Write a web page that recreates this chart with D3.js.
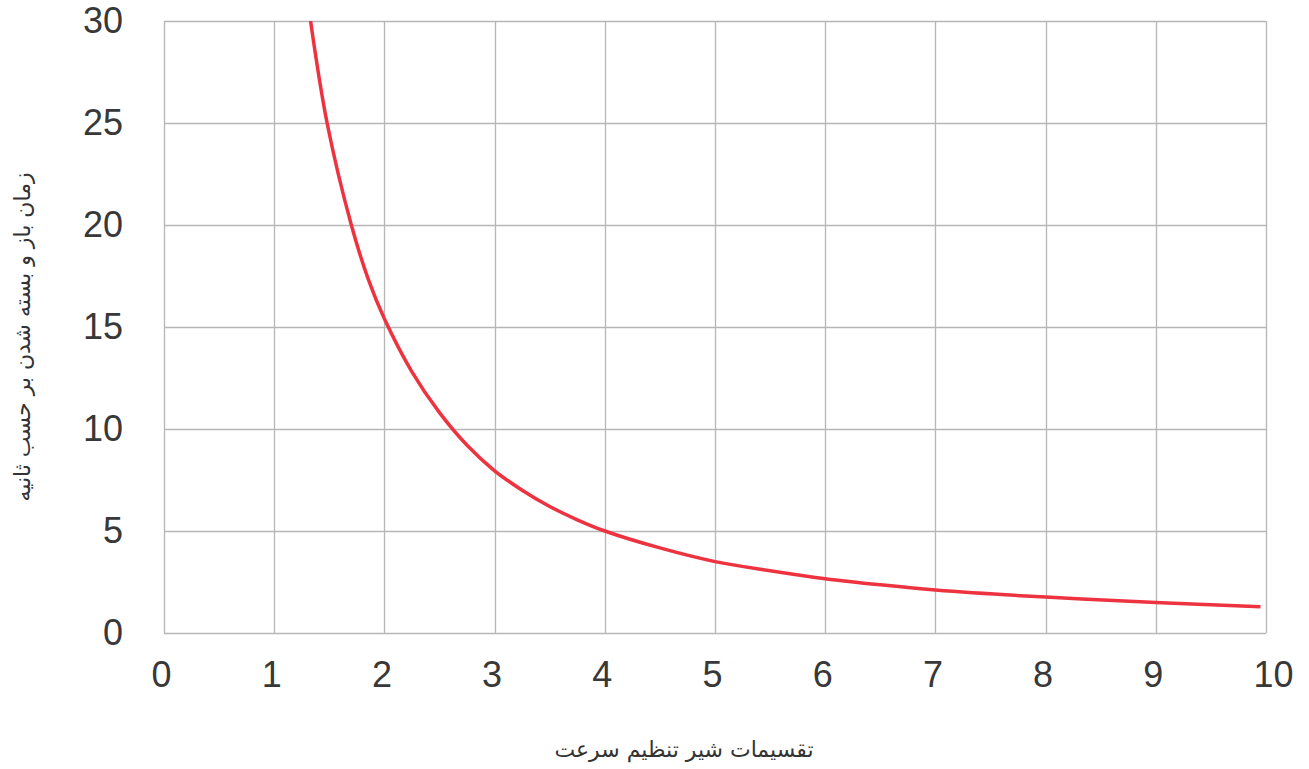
<!DOCTYPE html>
<html>
<head>
<meta charset="utf-8">
<script src="https://cdn.jsdelivr.net/npm/d3@7"></script>
<style>
  body { margin: 0; background: #fff; }
  svg { display: block; }
</style>
</head>
<body>
<script>
// values
var openings = [1.33, 1.48, 1.7, 1.85, 2, 2.25, 2.5, 2.75, 3, 3.25, 3.5, 3.75, 4, 4.5, 5, 5.5, 6, 6.5, 7, 8, 9, 9.95];
var seconds  = [30, 25, 20, 17.4, 15.4, 12.8, 10.8, 9.2, 7.95, 7.0, 6.2, 5.55, 5.0, 4.17, 3.5, 3.05, 2.66, 2.36, 2.11, 1.76, 1.5, 1.29];
var xTicks = [0, 1, 2, 3, 4, 5, 6, 7, 8, 9, 10];
var yTicks = [0, 5, 10, 15, 20, 25, 30];
var xTitle = "تقسیمات شیر تنظیم سرعت";
var yTitle = "زمان باز و بسته شدن بر حسب ثانیه";

var W = 1309, H = 769;
var margin = {top: 21, right: 43, bottom: 136, left: 164},
    width = W - margin.left - margin.right,
    height = H - margin.top - margin.bottom;

var data = openings.map(function(d, i) { return {x: d, y: seconds[i]}; });

var x = d3.scaleLinear().domain([0, 10]).range([0, width]);
var y = d3.scaleLinear().domain([0, 30]).range([height, 0]);

var svg = d3.select("body").append("svg")
    .attr("width", W)
    .attr("height", H);

var g = svg.append("g")
    .attr("transform", "translate(" + margin.left + "," + margin.top + ")");

// grid, snapped to whole pixels so every line looks the same
var grid = g.append("g").attr("class", "grid");

grid.selectAll(".vx").data(xTicks).enter().append("line")
    .attr("x1", function(d) { return Math.round(x(d)) + 0.5; })
    .attr("x2", function(d) { return Math.round(x(d)) + 0.5; })
    .attr("y1", 0)
    .attr("y2", height);

grid.selectAll(".hy").data(yTicks).enter().append("line")
    .attr("y1", function(d) { return Math.round(y(d)) + 0.5; })
    .attr("y2", function(d) { return Math.round(y(d)) + 0.5; })
    .attr("x1", 0)
    .attr("x2", width);

grid.selectAll("line")
    .attr("stroke", "#b6b6b6")
    .attr("stroke-width", 1.3);

// axis labels
var xa = g.append("g")
    .attr("transform", "translate(0," + height + ")")
    .call(d3.axisBottom(x).tickValues(xTicks).tickSize(0).tickPadding(28));

var ya = g.append("g")
    .call(d3.axisLeft(y).tickValues(yTicks).tickSize(0).tickPadding(41));

[xa, ya].forEach(function(a) {
  a.select(".domain").remove();
  a.selectAll("text")
      .attr("fill", "#383838")
      .style("font-family", "'Liberation Sans', Arial, sans-serif")
      .style("font-size", "36px");
});
xa.selectAll("text")
    .attr("dy", "0.71em")
    .attr("text-anchor", "start")
    .attr("x", -13);

// line
g.append("clipPath").attr("id", "clip")
  .append("rect").attr("width", width).attr("height", height);

var line = d3.line()
    .x(function(d) { return x(d.x); })
    .y(function(d) { return y(d.y); })
    .curve(d3.curveCatmullRom.alpha(0.5));

g.append("path")
    .datum(data)
    .attr("clip-path", "url(#clip)")
    .attr("d", line)
    .attr("fill", "none")
    .attr("stroke", "#ee3340")
    .attr("stroke-width", 3.5);

// titles
svg.append("text")
    .attr("x", 684)
    .attr("y", 757)
    .attr("text-anchor", "middle")
    .attr("fill", "#333")
    .style("font-family", "'DejaVu Sans', sans-serif")
    .style("font-size", "22px")
    .text(xTitle);

svg.append("text")
    .attr("transform", "translate(30,337) rotate(-90)")
    .attr("text-anchor", "middle")
    .attr("fill", "#333")
    .style("font-family", "'DejaVu Sans', sans-serif")
    .style("font-size", "22px")
    .text(yTitle);
</script>
</body>
</html>
